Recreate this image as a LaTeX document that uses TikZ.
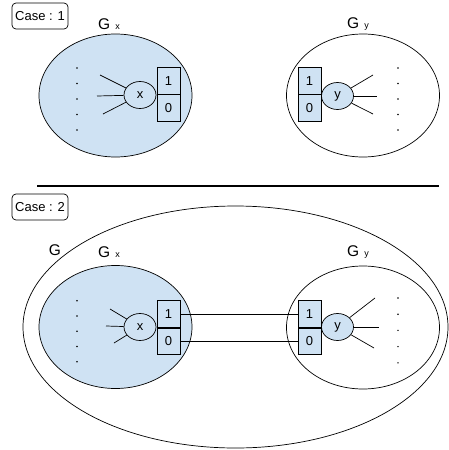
\documentclass[tikz,border=0pt]{standalone}
\usepackage{fontspec}
\setmainfont{Liberation Sans}
\usetikzlibrary{shapes.geometric, positioning}
\definecolor{lightblue}{HTML}{CFE2F3}
\newcommand{\gsub}[1]{{\fontsize{9}{10}\selectfont #1}}

\begin{document}
\begin{tikzpicture}[x=1pt, y=-1pt, line width=0.7pt,
  casebox/.style={draw, rounded corners=4pt, minimum width=56pt, minimum height=26pt, inner sep=0pt, font=\fontsize{13}{15}\selectfont},
  subgraph/.style={draw, ellipse, inner sep=0pt, minimum width=153pt, minimum height=123pt},
  vert/.style={draw, ellipse, fill=lightblue, inner sep=0pt, minimum width=32pt, minimum height=27pt, font=\fontsize{13}{15}\selectfont},
  bit/.style={draw, fill=lightblue, inner sep=0pt, minimum width=23pt, minimum height=26.5pt, font=\fontsize{13}{15}\selectfont},
  glabel/.style={font=\fontsize{15.5}{18}\selectfont}]
\useasboundingbox (0,0) rectangle (449,450);

% Case 1: two separate subgraphs
\node[casebox] (case1) at (40,16) {Case : 1};
\node[subgraph, fill=lightblue] (gx1) at (115.5,95.5) {};
\node[glabel] (gx1label) at (109,24) {G\,\,\gsub{x}};
\node[subgraph] (gy1) at (363,95.5) {};
\node[glabel] (gy1label) at (358,24) {G\,\,\gsub{y}};

\node[vert] (x1) at (140,95) {x};
\node[bit] (x1one) at (168.5,80.75) {1};
\node[bit, below=0pt of x1one] (x1zero) {0};
\coordinate (x1a) at (100,75);
\coordinate (x1b) at (97,96);
\coordinate (x1c) at (103,114);
\foreach \s in {x1a,x1b,x1c} \draw (\s) -- (x1);

\node[vert] (y1) at (337.5,96) {y};
\node[bit] (y1one) at (309.5,80.75) {1};
\node[bit, below=0pt of y1one] (y1zero) {0};
\coordinate (y1a) at (373,75);
\coordinate (y1b) at (377,96);
\coordinate (y1c) at (373,114);
\foreach \s in {y1a,y1b,y1c} \draw (y1) -- (\s);

\foreach \d in {0,...,4} {
    \fill (77,68+15.5*\d) circle (0.8);
    \fill (398,68+15.5*\d) circle (0.8);
}

% separator
\draw[line width=2.5pt] (37,186) -- (439,186);

% Case 2: both subgraphs inside G, joined at the bits
\node[casebox] (case2) at (40,207) {Case : 2};
\node[draw, ellipse, inner sep=0pt, minimum width=425pt, minimum height=242pt] (g) at (235.5,327) {};
\node[glabel] (glabel) at (55,250) {G};
\node[subgraph, fill=lightblue] (gx2) at (115.5,327) {};
\node[glabel] (gx2label) at (109,252) {G\,\,\gsub{x}};
\node[subgraph] (gy2) at (363,327.5) {};
\node[glabel] (gy2label) at (358,252) {G\,\,\gsub{y}};

\node[vert] (x2) at (140,327) {x};
\node[bit] (x2one) at (168.5,314) {1};
\node[bit, below=0pt of x2one] (x2zero) {0};
\coordinate (x2a) at (110,309);
\coordinate (x2b) at (106,326);
\coordinate (x2c) at (114,343);
\foreach \s in {x2a,x2b,x2c} \draw (\s) -- (x2);

\node[vert] (y2) at (337.5,327) {y};
\node[bit] (y2one) at (309.5,314) {1};
\node[bit, below=0pt of y2one] (y2zero) {0};
\coordinate (y2a) at (375,298);
\coordinate (y2b) at (379,327);
\coordinate (y2c) at (374,348);
\foreach \s in {y2a,y2b,y2c} \draw (y2) -- (\s);

\draw (x2one) -- (y2one);
\draw (x2zero) -- (y2zero);

\foreach \d in {0,...,4} {
    \fill (77,300.7+15.25*\d) circle (0.8);
    \fill (398,298+16.2*\d) circle (0.8);
}
\end{tikzpicture}
\end{document}
